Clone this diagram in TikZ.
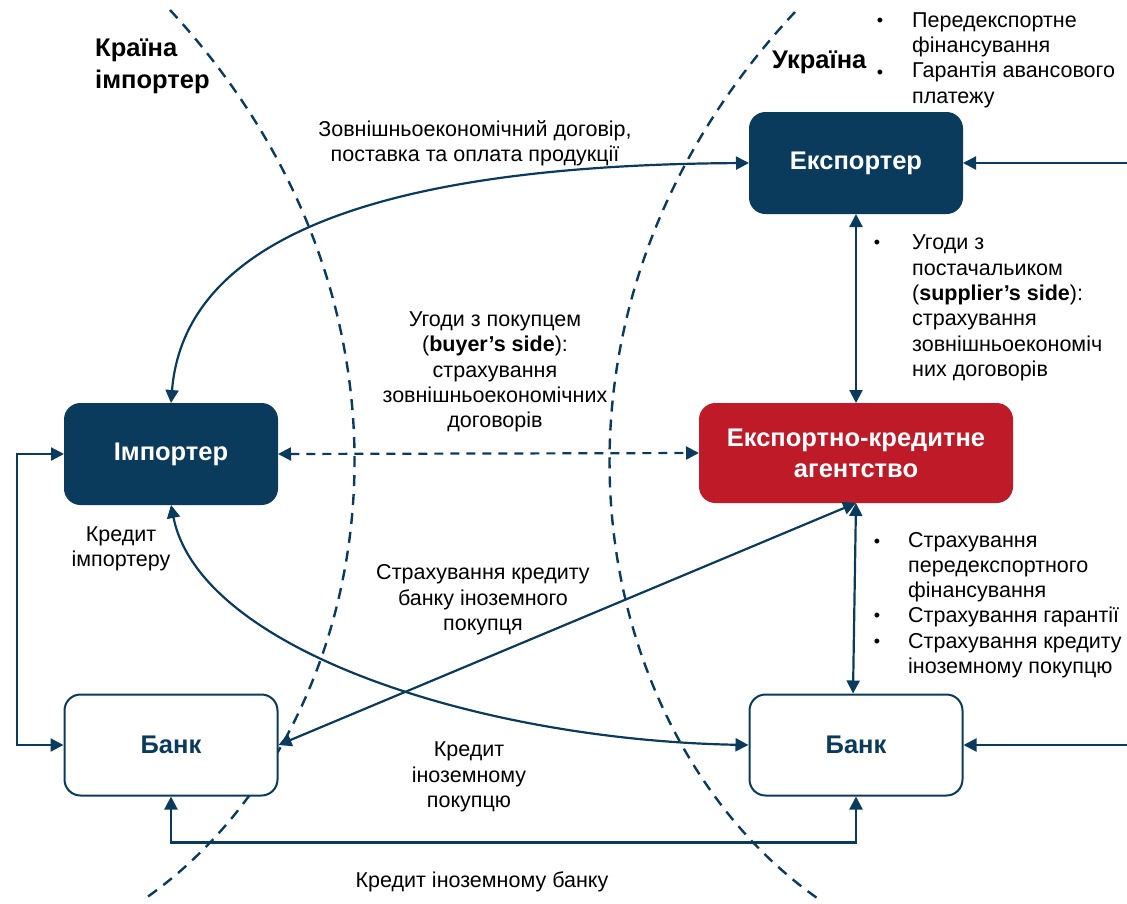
\documentclass[tikz,border=0pt]{standalone}
\usepackage{fontspec}
\setmainfont{Liberation Sans}
\usetikzlibrary{arrows.meta}
\definecolor{navy}{HTML}{0A3A5C}
\definecolor{ecared}{HTML}{BE1A28}
\begin{document}
\begin{tikzpicture}[x=1pt,y=-1pt,
  boxbase/.style={rounded corners=16pt, minimum width=213pt, minimum height=101pt, align=center, inner sep=0pt, font=\bfseries\fontsize{25.5}{31}\selectfont},
  darkbox/.style={boxbase, draw=navy, fill=navy, text=white, line width=1pt},
  redbox/.style={boxbase, draw=ecared, fill=ecared, text=white, line width=1pt, minimum width=313pt, minimum height=99pt},
  whitebox/.style={boxbase, draw=navy, fill=white, text=navy, line width=2pt},
  conn/.style={draw=navy, line width=2.2pt, {Triangle[length=13pt,width=13pt]}-{Triangle[length=13pt,width=13pt]}},
  oneway/.style={draw=navy, line width=2.2pt, -{Triangle[length=13pt,width=13pt]}},
  border/.style={draw=navy, line width=2.4pt, dash pattern=on 11pt off 8pt},
  lbl/.style={font=\fontsize{21.5}{25.3}\selectfont, align=center, inner sep=0pt, text=black},
  lbll/.style={font=\fontsize{21.5}{25.3}\selectfont, align=left, inner sep=0pt, text=black, anchor=west},
  bul/.style={font=\fontsize{18}{25}\selectfont, inner sep=0pt, text=black},
  head/.style={font=\bfseries\fontsize{25.5}{32}\selectfont, align=left, inner sep=0pt, text=black, anchor=west}
]
\useasboundingbox (0,0) rectangle (1127,903);

% country borders
\draw[border] (170,10) .. controls (461,325) and (374,741) .. (143,900);
\draw[border] (795,12) .. controls (503,325) and (590,741) .. (820,900);

% boxes
\node[darkbox] (exp) at (856,163) {Експортер};
\node[darkbox] (imp) at (171,454) {Імпортер};
\node[redbox] (eca) at (856,453) {Експортно-кредитне\\агентство};
\node[whitebox] (bankL) at (171,745) {Банк};
\node[whitebox] (bankR) at (856,745) {Банк};

\coordinate (inE) at (1127,163);
\coordinate (inB) at (1127,745);

% connectors
\draw[conn] (imp.north) .. controls (185,230) and (400,165) .. (exp.west);
\draw[conn, dash pattern=on 9pt off 7pt] (imp.east) -- (eca.west);
\draw[conn] (exp.south) -- (eca.north);
\draw[conn] (eca.south) -- ([xshift=-3pt]bankR.north);
\draw[conn] (eca.south) -- (bankL.east);
\draw[conn] (imp.south) .. controls (200,650) and (480,740) .. (bankR.west);
\draw[conn] (imp.west) -- ++(-47,0) |- (bankL.west);
\draw[conn] (bankL.south) -- ++(0,46) -| (bankR.south);
\draw[oneway] (inE) -- (exp.east);
\draw[oneway] (inB) -- (bankR.east);

% headings
\node[head] (hImp) at (95,66) {Країна\\імпортер};
\node[head] (hUa) at (772,62) {Україна};

% labels
\node[bul] (b1) at (880,22) {•};
\node[bul] (b2) at (880,74) {•};
\node[lbll] (t1) at (912,60) {Передекспортне\\фінансування\\Гарантія авансового\\платежу};

\node[lbl] (t2) at (475,143) {Зовнішньоекономічний договір,\\поставка та оплата продукції};

\node[lbl] (t3) at (495,372) {Угоди з покупцем\\(\textbf{buyer’s side}):\\страхування\\зовнішньоекономічних\\договорів};

\node[bul] (b3) at (877,244) {•};
\node[lbll] (t4) at (912,308) {Угоди з\\постачальиком\\(\textbf{supplier’s side}):\\страхування\\зовнішньоекономіч\\них договорів};

\node[lbl] (t5) at (121,549) {Кредит\\імпортеру};
\node[lbl] (t6) at (483,600) {Страхування кредиту\\банку іноземного\\покупця};

\node[bul] (b4) at (877,543) {•};
\node[bul] (b5) at (877,617) {•};
\node[bul] (b6) at (877,643) {•};
\node[lbll] (t7) at (908,605) {Страхування\\передекспортного\\фінансування\\Страхування гарантії\\Страхування кредиту\\іноземному покупцю};

\node[lbl] (t8) at (469,777) {Кредит\\іноземному\\покупцю};
\node[lbl] (t9) at (482,882) {Кредит іноземному банку};
\end{tikzpicture}
\end{document}
